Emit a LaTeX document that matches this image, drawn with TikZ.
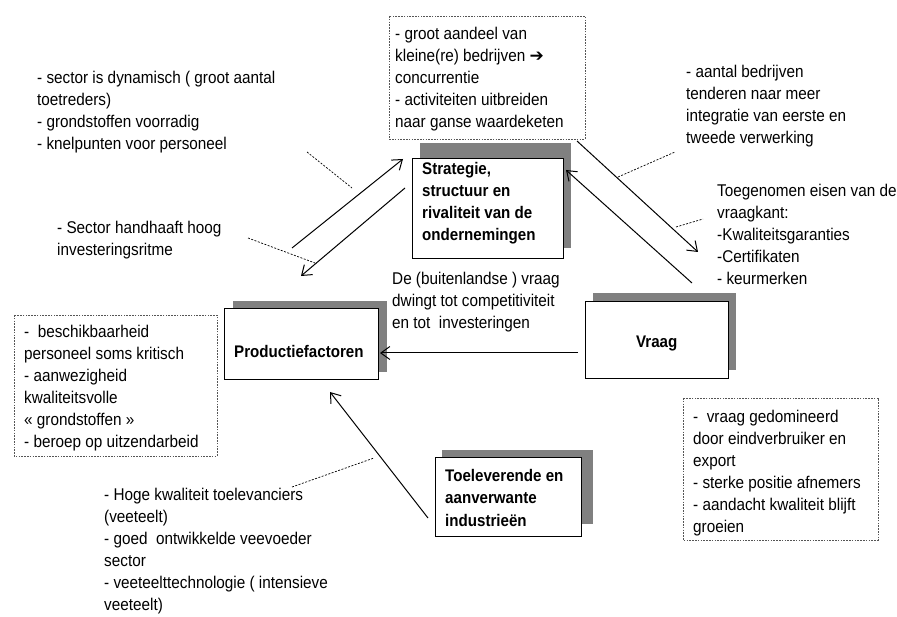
\documentclass[tikz,border=0pt]{standalone}
\usepackage{fontspec}
\setmainfont[FakeStretch=0.9]{Liberation Sans}
\newfontfamily\symfont{DejaVu Sans}
\usetikzlibrary{arrows.meta}
\definecolor{shade}{HTML}{808080}
\definecolor{dashgray}{HTML}{555555}
\tikzset{
  txt/.style={font=\fontsize{17}{22}\selectfont, align=left, inner sep=0pt, anchor=base west},
  boxlbl/.style={font=\fontsize{16.8}{22.3}\selectfont\bfseries, align=left, inner sep=0pt, anchor=base west},
  frontbox/.style={draw=black, line width=1.2pt, fill=white, inner sep=0pt, anchor=north west},
  shadowbox/.style={fill=shade, draw=none},
  notebox/.style={draw=dashgray, line width=0.8pt, dash pattern=on 1.6pt off 1.2pt},
  leader/.style={draw=black, line width=0.7pt, dash pattern=on 2pt off 1.5pt},
  conn/.style={draw=black, line width=1pt, -{Straight Barb[length=9pt,width=13pt,line width=1pt]}}
}
\begin{document}
\begin{tikzpicture}[x=1pt,y=-1pt]
\useasboundingbox (0,0) rectangle (897,617);

% shadows
\fill[shadowbox] (420,143) rectangle (571,248);
\fill[shadowbox] (593,293) rectangle (736,370);
\fill[shadowbox] (233,301) rectangle (387,372);
\fill[shadowbox] (442,450) rectangle (593,524);

% main boxes
\node[frontbox, minimum width=151pt, minimum height=100pt] (strat) at (412,158) {};
\node[frontbox, minimum width=143pt, minimum height=77pt] (vraag) at (585,301) {};
\node[frontbox, minimum width=154pt, minimum height=71pt] (prod) at (224,308) {};
\node[frontbox, minimum width=146pt, minimum height=79pt] (toel) at (435,457) {};

% (multi-line nodes: base anchor = last line's baseline)
\node[boxlbl] (stratlbl) at (422,241) {Strategie,\\structuur en\\rivaliteit van de\\ondernemingen};
\node[boxlbl] (vraaglbl) at (636,348) {Vraag};
\node[boxlbl] (prodlbl) at (234,358) {Productiefactoren};
\node[boxlbl] (toellbl) at (445,526) {Toeleverende en\\aanverwante\\industrieën};

% dashed note boxes
\draw[notebox] (389,16) rectangle (585,139);
\draw[notebox] (14,315) rectangle (217,456);
\draw[notebox] (683,398) rectangle (878,540);

\node[txt] (topnote) at (395,128) {- groot aandeel van\\kleine(re) bedrijven {\symfont\bfseries\symbol{"2794}}\\concurrentie\\- activiteiten uitbreiden\\naar ganse waardeketen};
\node[txt] (leftnote) at (24,447) {-\ \ beschikbaarheid\\personeel soms kritisch\\- aanwezigheid\\kwaliteitsvolle\\« grondstoffen »\\- beroep op uitzendarbeid};
\node[txt] (rightnote) at (693,532) {-\ \ vraag gedomineerd\\door eindverbruiker en\\export\\- sterke positie afnemers\\- aandacht kwaliteit blijft\\groeien};

% free texts
\node[txt] (tl) at (37,150) {- sector is dynamisch ( groot aantal\\toetreders)\\- grondstoffen voorradig\\- knelpunten voor personeel};
\node[txt] (inv) at (57,256) {- Sector handhaaft hoog\\investeringsritme};
\node[txt] (tr) at (686,144) {- aantal bedrijven\\tenderen naar meer\\integratie van eerste en\\tweede verwerking};
\node[txt] (eisen) at (717,285) {Toegenomen eisen van de\\vraagkant:\\-Kwaliteitsgaranties\\-Certifikaten\\- keurmerken};
\node[txt] (buit) at (392,329) {De (buitenlandse ) vraag\\dwingt tot competitiviteit\\en tot\ \ investeringen};
\node[txt] (bl) at (104,610) {- Hoge kwaliteit toelevanciers\\(veeteelt)\\- goed\ \ ontwikkelde veevoeder\\sector\\- veeteelttechnologie ( intensieve\\veeteelt)};

% connector end points
\coordinate (pf1) at (292,248); \coordinate (st1) at (403,159);
\coordinate (st2) at (405,188); \coordinate (pf2) at (301,276);
\coordinate (st3) at (577,141); \coordinate (vr3) at (698,252);
\coordinate (vr4) at (692,283); \coordinate (st4) at (566,170);
\coordinate (vr5) at (578,353); \coordinate (pf5) at (380,353);
\coordinate (tl6) at (428,518); \coordinate (pf6) at (330,392);

\draw[conn] (pf1) -- (st1);
\draw[conn] (st2) -- (pf2);
\draw[conn] (st3) -- (vr3);
\draw[conn] (vr4) -- (st4);
\draw[conn] (vr5) -- (pf5);
\draw[conn] (tl6) -- (pf6);

% leader lines
\coordinate (la1) at (307,152); \coordinate (la2) at (352,188);
\coordinate (lb1) at (248,238); \coordinate (lb2) at (315,263);
\coordinate (lc1) at (618,177); \coordinate (lc2) at (675,152);
\coordinate (ld1) at (676,227); \coordinate (ld2) at (703,219);
\coordinate (le1) at (292,487); \coordinate (le2) at (374,458);
\draw[leader] (la1) -- (la2);
\draw[leader] (lb1) -- (lb2);
\draw[leader] (lc1) -- (lc2);
\draw[leader] (ld1) -- (ld2);
\draw[leader] (le1) -- (le2);
\end{tikzpicture}
\end{document}
